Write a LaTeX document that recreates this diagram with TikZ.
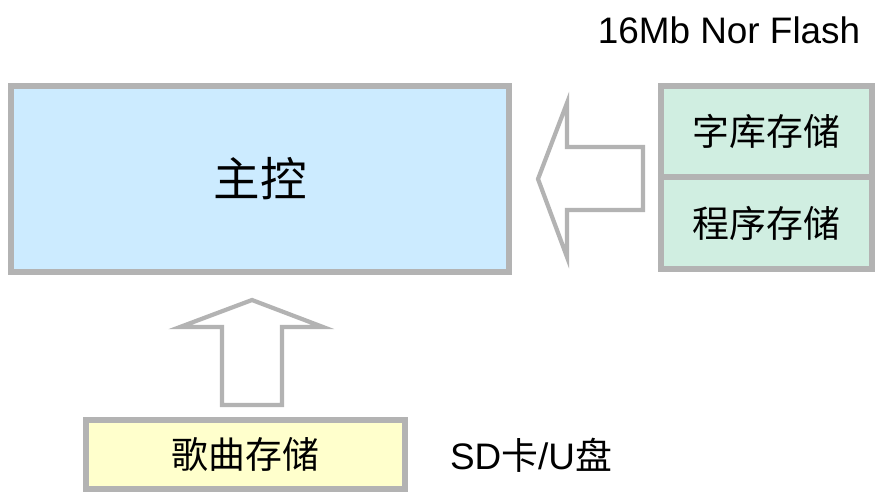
\documentclass[tikz,border=0pt]{standalone}
\usepackage{fontspec}
\setmainfont{Liberation Sans}
\newfontfamily\cjk{Noto Sans CJK SC}
\usepackage{tikz}
\usetikzlibrary{positioning}
\definecolor{boxgray}{HTML}{B3B3B3}
\definecolor{mcublue}{HTML}{CCEBFF}
\definecolor{flashgreen}{HTML}{D0EEE1}
\definecolor{sdyellow}{HTML}{FFFFCC}

\begin{document}
\begin{tikzpicture}[x=0.02cm, y=-0.02cm,
    blockbox/.style={draw=boxgray, line width=3.4pt, inner sep=0pt, outer sep=0pt},
    fatarrow/.style={draw=boxgray, fill=white, line width=2.4pt, line join=miter}]
            \useasboundingbox (0,0) rectangle (876,497);

            \node[blockbox, fill=mcublue, minimum width=9.96cm, minimum height=3.72cm] (mcu) at (260,179) {\cjk\fontsize{26.5}{30}\selectfont 主控};

            \node[blockbox, fill=flashgreen, minimum width=4.22cm, minimum height=1.83cm] (font) at (766.5,131.5) {\cjk\fontsize{21}{24}\selectfont 字库存储};
            \node[blockbox, fill=flashgreen, minimum width=4.22cm, minimum height=1.83cm, below=0pt of font] (prog) {\cjk\fontsize{21}{24}\selectfont 程序存储};
            \node (flash) at (729,30) {\fontsize{21}{24}\selectfont 16Mb Nor Flash};

            \node[blockbox, fill=sdyellow, minimum width=6.38cm, minimum height=1.38cm] (song) at (245.5,454.5) {\cjk\fontsize{21}{24}\selectfont 歌曲存储};
            \node (sd) at (531,455) {\fontsize{21}{24}\selectfont SD{\cjk 卡}/U{\cjk 盘}};

            \draw[fatarrow] (538,179) -- (567,103) -- (567,147) -- (643,147) -- (643,210) -- (567,210) -- (567,257) -- cycle;

            \draw[fatarrow] (252,300) -- (323,327) -- (282,327) -- (282,405) -- (222,405) -- (222,327) -- (180,327) -- cycle;
        \end{tikzpicture}
\end{document}
